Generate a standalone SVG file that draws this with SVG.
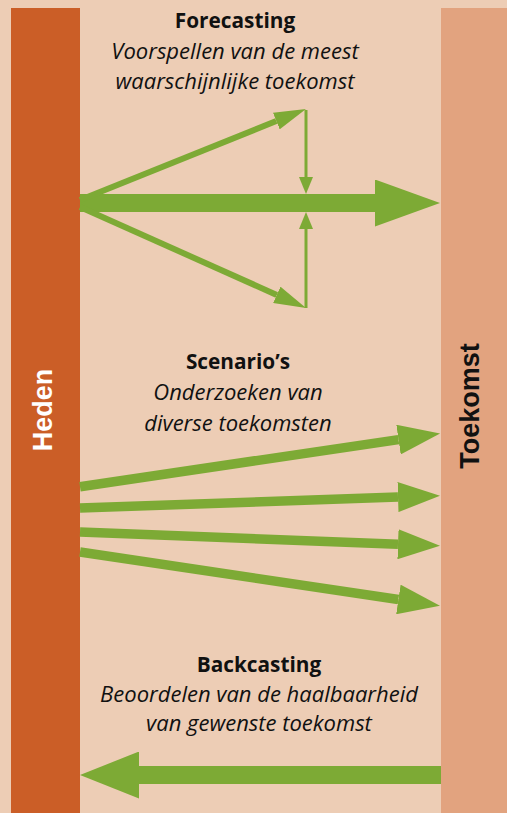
<svg xmlns="http://www.w3.org/2000/svg" width="507" height="813" viewBox="0 0 507 813">
  <style>
    .t { font-family: "Open Sans", "Liberation Sans", sans-serif; font-weight: bold; font-size: 20.8px; fill: #111; text-anchor: middle; }
    .s { font-family: "Open Sans", "Liberation Sans", sans-serif; font-style: italic; font-size: 22px; fill: #111; text-anchor: middle; }
    .bar { font-family: "Liberation Sans", Arial, sans-serif; font-weight: bold; font-size: 27px; text-anchor: middle; }
    .g { stroke: #7DAA35; fill: none; }
    .hf { fill: #7DAA35; }
  </style>
  <defs>
    <marker id="hThin" viewBox="0 0 32 18" refX="0" refY="9" markerWidth="32" markerHeight="18" orient="auto" markerUnits="userSpaceOnUse">
      <path d="M0,0 L32,9 L0,18 z" class="hf"/>
    </marker>
    <marker id="hMid" viewBox="0 0 42 30" refX="0" refY="15" markerWidth="42" markerHeight="30" orient="auto" markerUnits="userSpaceOnUse">
      <path d="M0,0 L42,15 L0,30 z" class="hf"/>
    </marker>
    <marker id="hSmall" viewBox="0 0 17 14" refX="0" refY="7" markerWidth="17" markerHeight="14" orient="auto" markerUnits="userSpaceOnUse">
      <path d="M0,0 L17,7 L0,14 z" class="hf"/>
    </marker>
    <marker id="hBig" viewBox="0 0 65 47" refX="0" refY="23.5" markerWidth="65" markerHeight="47" orient="auto" markerUnits="userSpaceOnUse">
      <path d="M0,0 L65,23.5 L0,47 z" class="hf"/>
    </marker>
    <marker id="hBack" viewBox="0 0 59 47" refX="0" refY="23.5" markerWidth="59" markerHeight="47" orient="auto" markerUnits="userSpaceOnUse">
      <path d="M0,0 L59,23.5 L0,47 z" class="hf"/>
    </marker>
  </defs>

  <rect width="507" height="813" fill="#EDCDB5"/>

  <g id="heden">
    <rect x="11" y="8" width="69" height="805" fill="#CB5E27"/>
    <text class="bar" fill="#FFFFFF" transform="translate(52,410) rotate(-90)">Heden</text>
  </g>
  <g id="toekomst">
    <rect x="441" y="8" width="66" height="805" fill="#E2A37F"/>
    <text class="bar" fill="#111111" transform="translate(479,406) rotate(-90)">Toekomst</text>
  </g>

  <g id="forecasting">
    <text class="t" x="235" y="28">Forecasting</text>
    <text class="s" x="235" y="59">Voorspellen van de meest</text>
    <text class="s" x="235" y="89">waarschijnlijke toekomst</text>
  </g>
  <g id="scenarios">
    <text class="t" x="238" y="369">Scenario’s</text>
    <text class="s" x="238" y="400">Onderzoeken van</text>
    <text class="s" x="238" y="431">diverse toekomsten</text>
  </g>
  <g id="backcasting">
    <text class="t" x="259" y="672">Backcasting</text>
    <text class="s" x="259" y="702">Beoordelen van de haalbaarheid</text>
    <text class="s" x="259" y="731">van gewenste toekomst</text>
  </g>

  <g id="connectors">
    <line class="g" x1="80" y1="203" x2="375" y2="203" stroke-width="18" marker-end="url(#hBig)"/>
    <line class="g" x1="80" y1="200" x2="276.3" y2="121" stroke-width="6" marker-end="url(#hThin)"/>
    <line class="g" x1="80" y1="207" x2="276.8" y2="294.9" stroke-width="6" marker-end="url(#hThin)"/>
    <line class="g" x1="306" y1="110" x2="306" y2="177" stroke-width="3" marker-end="url(#hSmall)"/>
    <line class="g" x1="306" y1="308" x2="306" y2="229" stroke-width="3" marker-end="url(#hSmall)"/>

    <line class="g" x1="80" y1="486.7" x2="398.5" y2="439.6" stroke-width="9.5" marker-end="url(#hMid)"/>
    <line class="g" x1="80" y1="508" x2="398" y2="497.1" stroke-width="9.5" marker-end="url(#hMid)"/>
    <line class="g" x1="80" y1="532" x2="398" y2="544.2" stroke-width="9.5" marker-end="url(#hMid)"/>
    <line class="g" x1="80" y1="552" x2="398.4" y2="599.5" stroke-width="9.5" marker-end="url(#hMid)"/>

    <line class="g" x1="441" y1="775" x2="139" y2="775" stroke-width="18" marker-end="url(#hBack)"/>
  </g>
</svg>
